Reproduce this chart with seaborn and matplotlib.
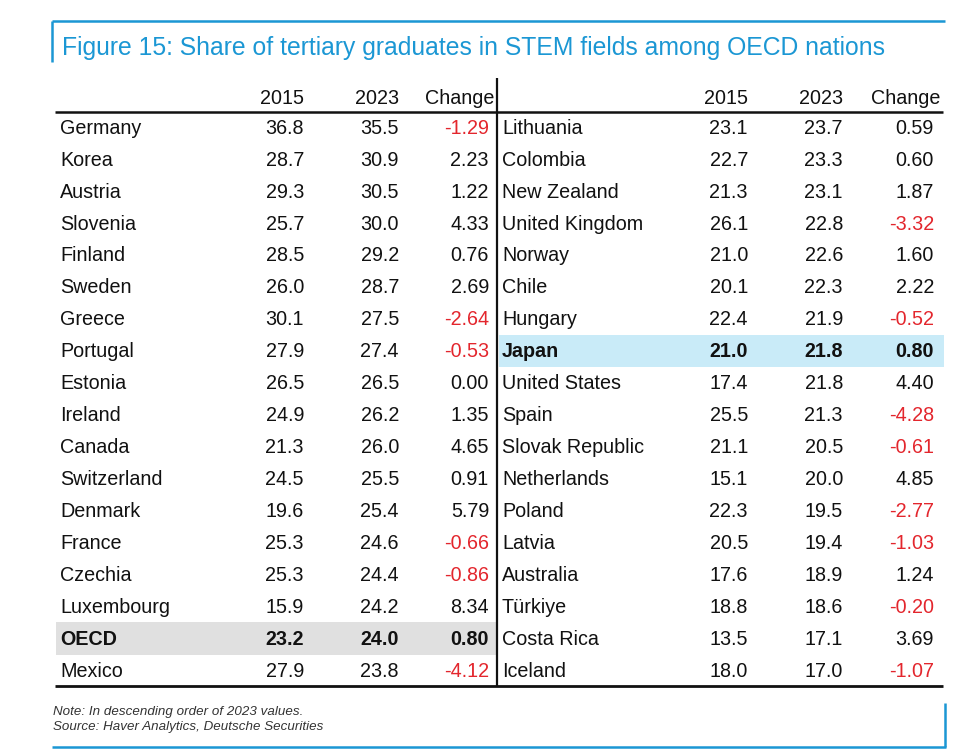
import matplotlib
matplotlib.use("Agg")
import matplotlib.pyplot as plt
import seaborn as sns
import pandas as pd

# ---------------- data ----------------
left_countries = ["Germany", "Korea", "Austria", "Slovenia", "Finland", "Sweden", "Greece",
                  "Portugal", "Estonia", "Ireland", "Canada", "Switzerland", "Denmark",
                  "France", "Czechia", "Luxembourg", "OECD", "Mexico"]
left_2015 = [36.8, 28.7, 29.3, 25.7, 28.5, 26.0, 30.1, 27.9, 26.5, 24.9, 21.3, 24.5, 19.6,
             25.3, 25.3, 15.9, 23.2, 27.9]
left_2023 = [35.5, 30.9, 30.5, 30.0, 29.2, 28.7, 27.5, 27.4, 26.5, 26.2, 26.0, 25.5, 25.4,
             24.6, 24.4, 24.2, 24.0, 23.8]
left_change = [-1.29, 2.23, 1.22, 4.33, 0.76, 2.69, -2.64, -0.53, 0.00, 1.35, 4.65, 0.91,
               5.79, -0.66, -0.86, 8.34, 0.80, -4.12]

right_countries = ["Lithuania", "Colombia", "New Zealand", "United Kingdom", "Norway", "Chile",
                   "Hungary", "Japan", "United States", "Spain", "Slovak Republic",
                   "Netherlands", "Poland", "Latvia", "Australia", "Türkiye", "Costa Rica",
                   "Iceland"]
right_2015 = [23.1, 22.7, 21.3, 26.1, 21.0, 20.1, 22.4, 21.0, 17.4, 25.5, 21.1, 15.1, 22.3,
              20.5, 17.6, 18.8, 13.5, 18.0]
right_2023 = [23.7, 23.3, 23.1, 22.8, 22.6, 22.3, 21.9, 21.8, 21.8, 21.3, 20.5, 20.0, 19.5,
              19.4, 18.9, 18.6, 17.1, 17.0]
right_change = [0.59, 0.60, 1.87, -3.32, 1.60, 2.22, -0.52, 0.80, 4.40, -4.28, -0.61, 4.85,
                -2.77, -1.03, 1.24, -0.20, 3.69, -1.07]

col_headers = ["2015", "2023", "Change"]
title = "Figure 15: Share of tertiary graduates in STEM fields among OECD nations"
notes = ["Note: In descending order of 2023 values.",
         "Source: Haver Analytics, Deutsche Securities"]
highlight_left = {"OECD": "#e0e0e0"}
highlight_right = {"Japan": "#c9ebf8"}

# ---------------- style ----------------
sns.set_theme(style="white")
plt.rcParams["font.family"] = ["Liberation Sans", "DejaVu Sans"]

BLUE = "#1b97d4"
RED = "#e3262d"
BLACK = "#111111"
FS = 14.2
BASE = 0.21  # baseline offset (rows) below row centre

left = pd.DataFrame({"country": left_countries, "y2015": left_2015,
                     "y2023": left_2023, "change": left_change})
right = pd.DataFrame({"country": right_countries, "y2015": right_2015,
                      "y2023": right_2023, "change": right_change})

fig = plt.figure(figsize=(9.58, 7.53), dpi=100)
ax = fig.add_axes([0, 0, 1, 1])
n = len(left)
ax.set_xlim(0, 958)
ax.set_ylim(19.6, -3.976)
ax.axis("off")

# layout: (name_x, col right edges, header right edges, highlight x-range)
panels = [
    (left, highlight_left, 60, [304, 399, 489], [304, 399, 494], (56, 497)),
    (right, highlight_right, 502, [748, 843, 934], [748, 843, 940], (499, 944)),
]

for df, hl, name_x, cols, hcols, (hx0, hx1) in panels:
    for hx, h in zip(hcols, col_headers):
        ax.text(hx, -0.72, h, ha="right", va="baseline", fontsize=FS, color=BLACK)
    for i, row in df.iterrows():
        bold = row["country"] in hl
        if bold:
            ax.fill_between([hx0, hx1], i - 0.5, i + 0.53, color=hl[row["country"]],
                            linewidth=0, zorder=0)
        fw = "bold" if bold else "normal"
        y = i + BASE
        ax.text(name_x, y, row["country"], ha="left", va="baseline", fontsize=FS,
                color=BLACK, fontweight=fw)
        ax.text(cols[0], y, f"{row['y2015']:.1f}", ha="right", va="baseline",
                fontsize=FS, color=BLACK, fontweight=fw)
        ax.text(cols[1], y, f"{row['y2023']:.1f}", ha="right", va="baseline",
                fontsize=FS, color=BLACK, fontweight=fw)
        ax.text(cols[2], y, f"{row['change']:.2f}", ha="right", va="baseline",
                fontsize=FS, color=RED if row["change"] < 0 else BLACK, fontweight=fw)

# table rules
ax.plot([55, 943], [-0.47, -0.47], color=BLACK, lw=1.8, solid_capstyle="butt")
ax.plot([55, 943], [n - 0.5, n - 0.5], color=BLACK, lw=2.0, solid_capstyle="butt")
ax.plot([497, 497], [-1.52, n - 0.5], color=BLACK, lw=1.6, solid_capstyle="butt")

# title frame
ax.plot([52, 945], [-3.318, -3.318], color=BLUE, lw=1.8, solid_capstyle="butt")
ax.plot([52, 52], [-3.318, -2.035], color=BLUE, lw=1.8, solid_capstyle="butt")
ax.text(62, -2.26, title, ha="left", va="baseline", fontsize=17.8, color=BLUE)

# footer frame
ax.plot([52, 946], [19.41, 19.41], color=BLUE, lw=1.8, solid_capstyle="butt")
ax.plot([945, 945], [18.04, 19.41], color=BLUE, lw=1.8, solid_capstyle="butt")
ax.text(53, 18.42, notes[0], ha="left", va="baseline", fontsize=9.6, color="#333333",
        style="italic")
ax.text(53, 18.89, notes[1], ha="left", va="baseline", fontsize=9.6, color="#333333",
        style="italic")

fig.savefig("out.png", dpi=100)
